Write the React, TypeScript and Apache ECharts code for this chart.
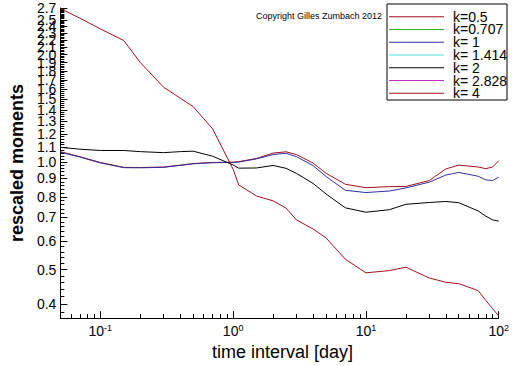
import React, { useEffect, useRef } from "react";
import * as echarts from "echarts";

// time interval in days
const X_DAYS = [0.05, 0.07, 0.1, 0.15, 0.2, 0.3, 0.4, 0.5, 0.7, 1, 1.1, 1.5, 2, 2.5, 3, 4, 5, 7, 10, 15, 20, 30, 40, 50, 70, 80, 90, 100];

const K05 = [1.07, 1.036, 0.998, 0.967, 0.966, 0.969, 0.981, 0.991, 0.998, 1.0, 1.003, 1.024, 1.06, 1.069, 1.05, 0.994, 0.931, 0.867, 0.848, 0.854, 0.855, 0.888, 0.957, 0.981, 0.969, 0.959, 0.969, 1.009];
const K0707: number[] = [];
const K1 = [1.066, 1.033, 0.995, 0.965, 0.964, 0.967, 0.979, 0.989, 0.996, 0.998, 1.0, 1.021, 1.05, 1.059, 1.036, 0.978, 0.912, 0.834, 0.822, 0.83, 0.847, 0.879, 0.92, 0.936, 0.913, 0.892, 0.888, 0.908];
const K1414: number[] = [];
const K2 = [1.1, 1.087, 1.078, 1.078, 1.07, 1.063, 1.07, 1.073, 1.039, 0.982, 0.962, 0.963, 0.979, 0.961, 0.93, 0.872, 0.815, 0.745, 0.724, 0.736, 0.762, 0.771, 0.776, 0.77, 0.73, 0.706, 0.689, 0.684];
const K2828: number[] = [];
const K4 = [2.69, 2.53, 2.36, 2.19, 1.9, 1.62, 1.51, 1.43, 1.24, 0.955, 0.864, 0.804, 0.779, 0.744, 0.689, 0.65, 0.614, 0.535, 0.49, 0.497, 0.508, 0.474, 0.461, 0.457, 0.437, 0.41, 0.389, 0.371];

const SERIES_NAMES = ["k=0.5", "k=0.707", "k= 1", "k= 1.414", "k= 2", "k= 2.828", "k= 4"];
const SERIES_VALUES = [K05, K0707, K1, K1414, K2, K2828, K4];
const SERIES_COLORS = ["#a01020", "#30b030", "#3030a0", "#50e0e0", "#000000", "#c030c0", "#a01020"];

const X_MIN = 0.05;
const X_MAX = 100;
const Y_MIN = 0.366;
const Y_MAX = 2.7;

const X_MAJOR = [0.1, 1, 10, 100];
const X_MINOR = [0.05, 0.06, 0.07, 0.08, 0.09, 0.2, 0.3, 0.4, 0.5, 0.6, 0.7, 0.8, 0.9, 2, 3, 4, 5, 6, 7, 8, 9, 20, 30, 40, 50, 60, 70, 80, 90];
const Y_LABELS = [0.4, 0.5, 0.6, 0.7, 0.8, 0.9, 1.0, 1.1, 1.2, 1.3, 1.4, 1.5, 1.6, 1.7, 1.8, 1.9, 2.0, 2.1, 2.2, 2.3, 2.4, 2.5, 2.6, 2.7];

const L = (v: number) => Math.log10(v);

export default function App() {
  const ref = useRef<HTMLDivElement>(null);
  useEffect(() => {
    if (!ref.current) return;
    const chart = echarts.init(ref.current, undefined, { renderer: "svg" });
    const yMinor: number[] = [];
    for (let i = 19; i <= 135; i++) {
      const v = i * 0.02;
      if (v >= Y_MIN && v <= Y_MAX + 1e-9) yMinor.push(L(v));
    }
    const font = "'Liberation Sans', Arial, sans-serif";
    const xBase = {
      type: "value",
      min: L(X_MIN),
      max: L(X_MAX),
      position: "bottom",
      offset: 0,
      splitLine: { show: false },
    };
    const yBase = {
      type: "value",
      min: L(Y_MIN),
      max: L(Y_MAX) + 1e-6,
      position: "left",
      offset: 0,
      splitLine: { show: false },
    };
    // one legend per row so the row pitch matches the reference box
    const legends = SERIES_NAMES.map((name, i) => ({
      show: true,
      orient: "vertical",
      left: 389,
      top: 9.7 + i * 12.77,
      padding: 0,
      icon: "rect",
      itemWidth: 55,
      itemHeight: 1,
      itemGap: 0,
      textStyle: { fontFamily: font, fontSize: 14, color: "#000", height: 12, lineHeight: 12, padding: [0, 0, 0, 4] },
      data: [name],
    }));
    chart.setOption({
      animation: false,
      backgroundColor: "#ffffff",
      grid: { left: 47, right: 10, top: 8, bottom: 41, containLabel: false },
      xAxis: [
        {
          ...xBase,
          name: "time interval [day]",
          nameLocation: "middle",
          nameGap: 18,
          nameTextStyle: { fontFamily: font, fontSize: 18, color: "#000", padding: [0, 0, 0, 6] },
          axisLine: { show: true, onZero: false, lineStyle: { color: "#000", width: 1 } },
          axisTick: { show: true, inside: true, length: 7, customValues: X_MAJOR.map(L), lineStyle: { color: "#000" } },
          axisLabel: {
            show: true,
            margin: 5,
            showMinLabel: true,
            showMaxLabel: true,
            customValues: X_MAJOR.map(L),
            formatter: (v: number) => `{b|10}{s|${Math.round(v)}}`,
            rich: {
              b: { fontFamily: font, fontSize: 14, color: "#000", lineHeight: 16 },
              s: { fontFamily: font, fontSize: 9, color: "#000", verticalAlign: "top", lineHeight: 16 },
            },
          },
        },
        {
          ...xBase,
          axisLine: { show: false, onZero: false },
          axisTick: { show: true, inside: true, length: 4, customValues: X_MINOR.map(L), lineStyle: { color: "#000" } },
          axisLabel: { show: false },
        },
      ],
      yAxis: [
        {
          ...yBase,
          name: "rescaled moments",
          nameLocation: "middle",
          nameGap: 34,
          nameTextStyle: { fontFamily: font, fontSize: 18, fontWeight: "bold", color: "#000" },
          axisLine: { show: true, onZero: false, lineStyle: { color: "#000", width: 1 } },
          axisTick: { show: true, inside: true, length: 7, customValues: Y_LABELS.map(L), lineStyle: { color: "#000" } },
          axisLabel: {
            show: true,
            margin: 4,
            showMinLabel: true,
            showMaxLabel: true,
            hideOverlap: false,
            customValues: Y_LABELS.map(L),
            formatter: (v: number) => Math.pow(10, v).toFixed(1),
            fontFamily: font,
            fontSize: 14,
            color: "#000",
          },
        },
        {
          ...yBase,
          axisLine: { show: false, onZero: false },
          axisTick: { show: true, inside: true, length: 4, customValues: yMinor, lineStyle: { color: "#000" } },
          axisLabel: { show: false },
        },
      ],
      legend: legends,
      graphic: [
        {
          type: "rect",
          left: 386.5,
          top: 3.5,
          z: 0,
          shape: { width: 120, height: 96 },
          style: { fill: "#fff", stroke: "#000", lineWidth: 1 },
        },
        {
          type: "text",
          left: 256,
          top: 11,
          style: { text: "Copyright Gilles Zumbach 2012", fontFamily: font, fontSize: 9, fill: "#000" },
        },
      ],
      series: SERIES_NAMES.map((name, i) => ({
        name,
        type: "line",
        xAxisIndex: 0,
        yAxisIndex: 0,
        symbol: "none",
        showSymbol: false,
        color: SERIES_COLORS[i],
        lineStyle: { color: SERIES_COLORS[i], width: 1 },
        data: SERIES_VALUES[i].map((v, j) => [L(X_DAYS[j]), L(v)]),
      })),
    });
    return () => chart.dispose();
  }, []);
  return <div ref={ref} style={{ width: 512, height: 366, position: "fixed", left: 0, top: 0 }} />;
}
